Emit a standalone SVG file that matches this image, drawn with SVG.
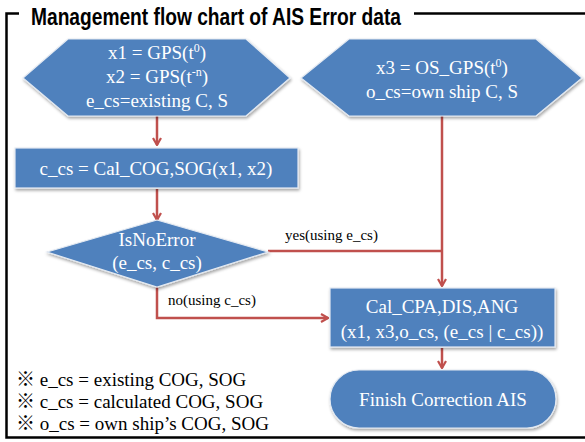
<svg xmlns="http://www.w3.org/2000/svg" width="585" height="442" viewBox="0 0 585 442">
<style>
.node{fill:#4F81BD;stroke:#E4EAF2;stroke-width:1.2;filter:url(#sh)}
.nt{font-family:"Liberation Serif","Times New Roman",serif;font-size:19px;fill:#FFFFFF;text-anchor:middle}
.lbl{font-family:"Liberation Serif","Times New Roman",serif;font-size:15px;fill:#000000}
.leg{font-family:"Liberation Serif","Noto Sans CJK KR",serif;font-size:19px;fill:#000000}
.edge{fill:none;stroke:#C0504D;stroke-width:2.5}
.frame{fill:none;stroke:#000000;stroke-width:2.5}
</style>
<defs>
<filter id="sh" x="-10%" y="-10%" width="130%" height="140%">
<feDropShadow dx="1" dy="2" stdDeviation="1.5" flood-color="#000000" flood-opacity="0.35"/>
</filter>
<marker id="ah" viewBox="0 0 10 10" refX="9" refY="5" markerWidth="10" markerHeight="10" markerUnits="userSpaceOnUse" orient="auto">
<path d="M2,1 L9,5 L2,9" fill="none" stroke="#C0504D" stroke-width="2.2"/>
</marker>
</defs>
<rect width="585" height="442" fill="#FFFFFF"/>

<g id="frame">
<path class="frame" d="M19,13.5 H6.5 V437.5 H585"/>
<path class="frame" d="M414,13.5 H585"/>
<text x="31" y="25" font-family="'Liberation Sans',Arial,sans-serif" font-weight="bold" font-size="23" textLength="370" lengthAdjust="spacingAndGlyphs" fill="#000000">Management flow chart of AIS Error data</text>
</g>

<g id="connectors">
<path class="edge" d="M157,115 V145" marker-end="url(#ah)"/>
<path class="edge" d="M157,189 V220" marker-end="url(#ah)"/>
<path class="edge" d="M268,251 H442"/>
<path class="edge" d="M442,115 V286" marker-end="url(#ah)"/>
<path class="edge" d="M157,286 V318 H328" marker-end="url(#ah)"/>
<path class="edge" d="M442,348 V368" marker-end="url(#ah)"/>
<text class="lbl" x="285" y="240">yes(using e_cs)</text>
<text class="lbl" x="168" y="305">no(using c_cs)</text>
</g>

<g id="input1">
<polygon class="node" points="23,78 68,39 246,39 290,78 246,116 68,116"/>
<text class="nt" x="157" y="59">x1 = GPS(t<tspan font-size="12" dy="-7">0</tspan><tspan dy="7">)</tspan></text>
<text class="nt" x="157" y="83">x2 = GPS(t<tspan font-size="12" dy="-7">-n</tspan><tspan dy="7">)</tspan></text>
<text class="nt" x="157" y="107">e_cs=existing C, S</text>
</g>

<g id="input2">
<polygon class="node" points="301,78 349,39 536,39 582,78 536,116 349,116"/>
<text class="nt" x="442" y="74">x3 = OS_GPS(t<tspan font-size="12" dy="-7">0</tspan><tspan dy="7">)</tspan></text>
<text class="nt" x="442" y="98">o_cs=own ship C, S</text>
</g>

<g id="calc">
<rect class="node" x="15" y="148" width="283" height="40"/>
<text class="nt" x="156" y="175">c_cs = Cal_COG,SOG(x1, x2)</text>
</g>

<g id="decision">
<polygon class="node" points="157,220 268,252 157,287 47,252"/>
<text class="nt" x="157" y="246">IsNoError</text>
<text class="nt" x="157" y="269">(e_cs, c_cs)</text>
</g>

<g id="cpa">
<rect class="node" x="330" y="288" width="225" height="59"/>
<text class="nt" x="442" y="313">Cal_CPA,DIS,ANG</text>
<text class="nt" x="442" y="338">(x1, x3,o_cs, (e_cs | c_cs))</text>
</g>

<g id="finish">
<rect class="node" x="330" y="370" width="226" height="58" rx="29" ry="29"/>
<text class="nt" x="443" y="406">Finish Correction AIS</text>
</g>

<g id="legend">
<text class="leg" x="16" y="386">※ e_cs = existing COG, SOG</text>
<text class="leg" x="16" y="408">※ c_cs = calculated COG, SOG</text>
<text class="leg" x="16" y="430">※ o_cs = own ship’s COG, SOG</text>
</g>
</svg>
